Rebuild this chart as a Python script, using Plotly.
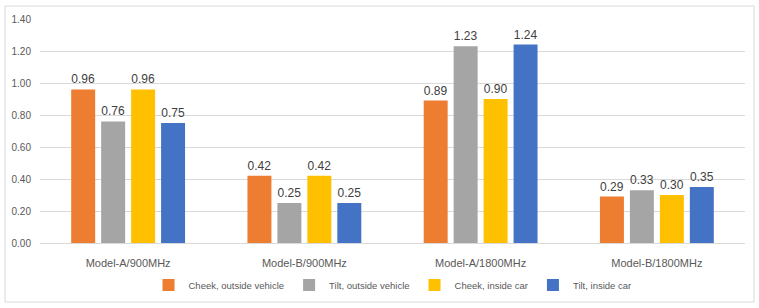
import plotly.graph_objects as go

categories = ["Model-A/900MHz", "Model-B/900MHz", "Model-A/1800MHz", "Model-B/1800MHz"]
series_names = ["Cheek, outside vehicle", "Tilt, outside vehicle", "Cheek, inside car", "Tilt, inside car"]
cheek_outside = [0.96, 0.42, 0.89, 0.29]
tilt_outside = [0.76, 0.25, 1.23, 0.33]
cheek_inside = [0.96, 0.42, 0.90, 0.30]
tilt_inside = [0.75, 0.25, 1.24, 0.35]
colors = ["#ED7D31", "#A5A5A5", "#FFC000", "#4472C4"]

fig = go.Figure()
for name, vals, c in zip(series_names, [cheek_outside, tilt_outside, cheek_inside, tilt_inside], colors):
    fig.add_trace(go.Bar(
        x=categories, y=vals, name=name, marker=dict(color=c, line=dict(width=0)),
        text=[f"{v:.2f}" for v in vals], textposition="outside", cliponaxis=False,
        textfont=dict(size=12, color="#404040", family="Liberation Sans"),
    ))

L, R, T, B = 40, 745, 19, 243
W, H = R - L, B - T
fig.update_layout(
    width=759, height=308,
    margin=dict(l=L, r=759 - R, t=T, b=308 - B, autoexpand=False),
    paper_bgcolor="white", plot_bgcolor="white",
    barmode="group", bargap=0.32, bargroupgap=0.2,
    font=dict(family="Liberation Sans", color="#595959"),
    showlegend=True,
    legend=dict(orientation="h", x=0.5, xanchor="center", y=(B - 285) / H, yanchor="middle",
                font=dict(size=9.5, color="#595959"), itemwidth=30, traceorder="normal",
                tracegroupgap=0),
    xaxis=dict(showline=True, linecolor="#D9D9D9", linewidth=1, ticks="",
               ticklabelstandoff=10,
               tickfont=dict(size=11, color="#595959")),
    yaxis=dict(range=[0, 1.4], dtick=0.2, tickformat=".2f", showgrid=True, gridcolor="#D9D9D9",
               zeroline=False, showline=False, ticks="", ticklabelstandoff=8,
               tickfont=dict(size=10, color="#595959")),
    shapes=[dict(type="rect", xref="paper", yref="paper",
                 x0=(5 - L) / W, x1=(754 - L) / W, y0=(B - 302) / H, y1=(B - 6) / H,
                 line=dict(color="#D9D9D9", width=1), fillcolor="rgba(0,0,0,0)")],
)
fig.write_html("out.html", config={"displayModeBar": False},
               post_script="document.body.style.margin='0';")
